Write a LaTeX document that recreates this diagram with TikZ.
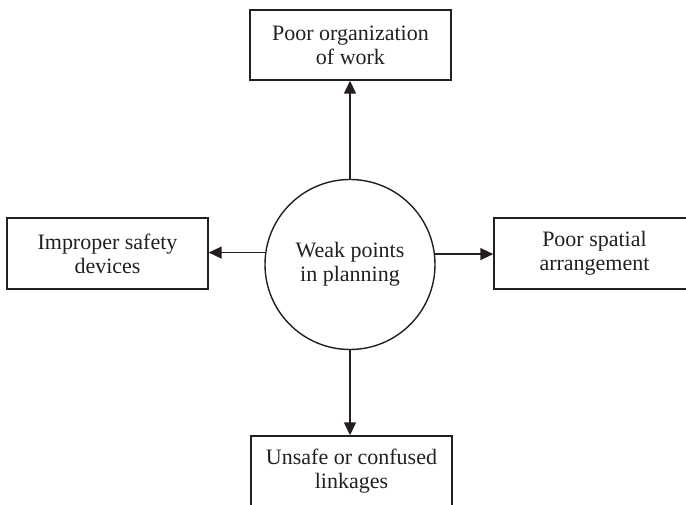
\documentclass[tikz,border=0pt]{standalone}
\usepackage{fontspec}
\setmainfont{Liberation Serif}
\usetikzlibrary{arrows.meta}
\definecolor{ink}{HTML}{231F20}
\begin{document}
\begin{tikzpicture}[x=1pt,y=1pt,
  every node/.style={font=\fontsize{22}{24}\selectfont, text=ink, align=center},
  causebox/.style={draw=ink, line width=1.4pt, rectangle, minimum width=201pt, minimum height=70pt, inner sep=0pt},
  hub/.style={draw=ink, line width=1.4pt, circle, minimum size=170pt, inner sep=0pt},
  arr/.style={draw=ink, line width=1.4pt, -{Triangle[length=13pt,width=12pt]}}]
  \useasboundingbox (0,0) rectangle (686,504);
  \clip (0,0) rectangle (686,504);
  % central circle
  \node[hub] (c) at (350,239.5) {Weak points\\in planning};
  % surrounding boxes
  \node[causebox] (top) at (350.5,459) {Poor organization\\of work};
  \node[causebox, minimum height=71pt] (left) at (107.5,250.5) {Improper safety\\devices};
  \node[causebox, minimum height=71pt] (right) at (594.5,250.5) {Poor spatial\\arrangement};
  \node[causebox, minimum height=71pt] (bottom) at (351.5,32.5) {Unsafe or confused\\linkages};
  % connectors
  \draw[arr] (c.north) -- (c.north |- top.south);
  \draw[arr] (c.south) -- (c.south |- bottom.north);
  \draw[arr] (c.172.6) -- (c.172.6 -| left.east);
  \draw[arr] (c.7.4) -- (c.7.4 -| right.west);
\end{tikzpicture}
\end{document}
